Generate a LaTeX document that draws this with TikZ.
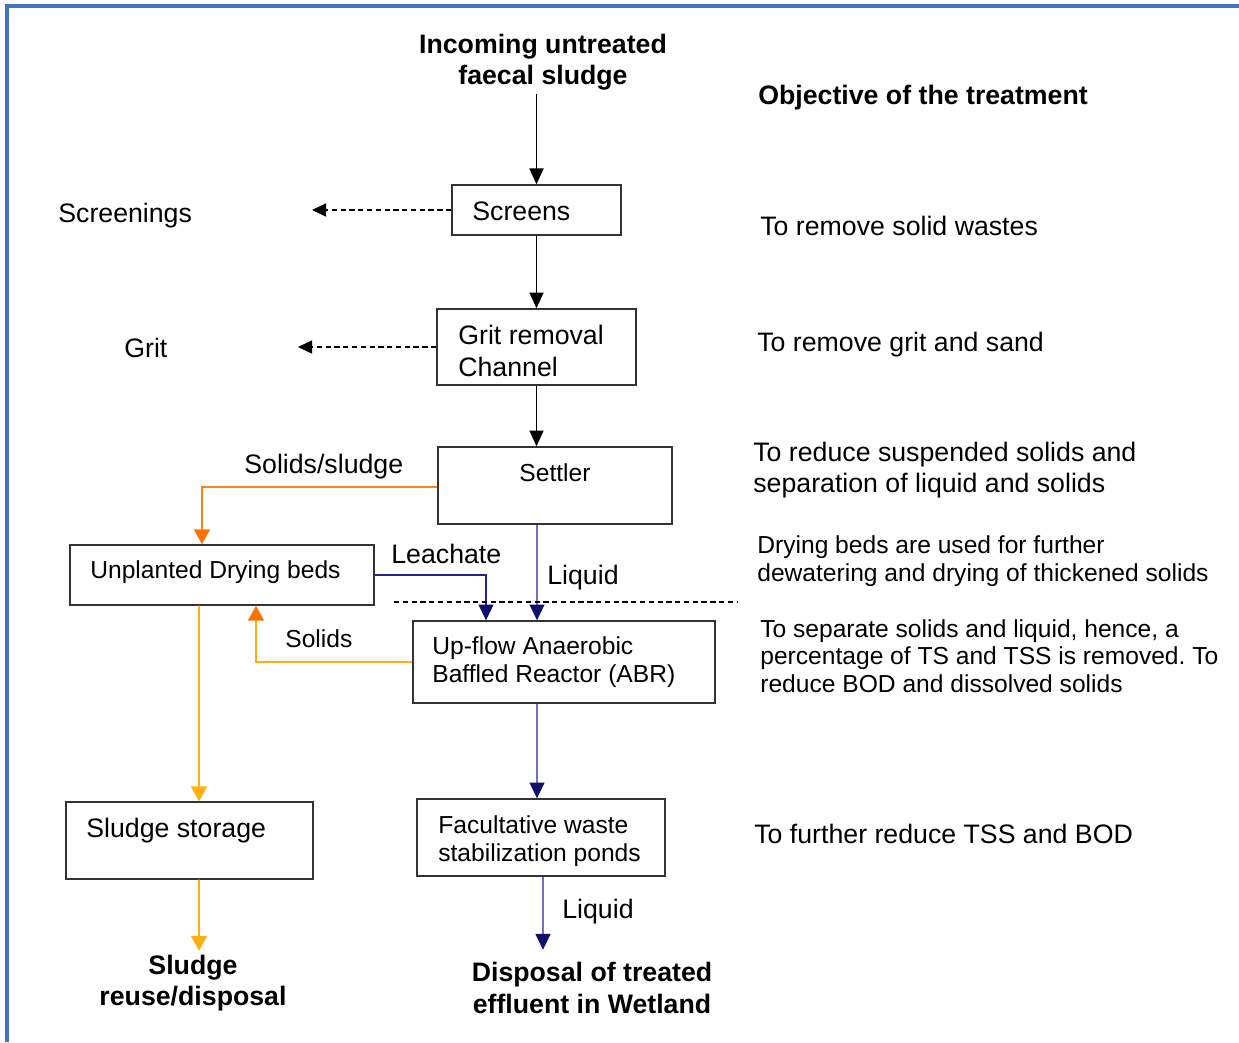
\documentclass[tikz,border=0pt]{standalone}
\usepackage{fontspec}
\setmainfont{Liberation Sans}
\usetikzlibrary{arrows.meta,calc,positioning}

\definecolor{frameblue}{RGB}{68,114,196}
\definecolor{sludgeline}{RGB}{255,130,25}
\definecolor{sludgeamber}{RGB}{255,176,15}
\definecolor{sludgehead}{RGB}{255,115,0}
\definecolor{liquidline}{RGB}{35,35,150}
\definecolor{liquidhead}{RGB}{15,15,110}
\newcommand{\bigtxt}{\fontsize{15.2}{18}\selectfont}
\newcommand{\smalltxt}{\fontsize{14}{15.8}\selectfont}

\begin{document}
\begin{tikzpicture}[x=0.02cm,y=-0.02cm,
box/.style={draw=black!80, line width=0.8pt, inner sep=0pt},
txt/.style={inner sep=0pt, font=\bigtxt, align=left},
ntxt/.style={inner sep=0pt, font=\smalltxt, align=left},
btxt/.style={inner sep=0pt, font=\bigtxt\bfseries, align=center},
blackflow/.style={line width=0.9pt, -{Triangle[width=8pt,length=9pt]}},
sideflow/.style={line width=0.6pt, dash pattern=on 3pt off 2pt, -{Triangle[width=7.5pt,length=8pt]}},
sludgeflow/.style={draw=sludgeline, line width=1.2pt, -{Triangle[width=9pt,length=8.5pt,color=sludgehead]}},
solidsflow/.style={draw=sludgeamber, line width=1.2pt, -{Triangle[width=9pt,length=8.5pt,color=sludgehead]}},
storeflow/.style={draw=sludgeamber, line width=1pt, -{Triangle[width=9pt,length=8.5pt,color=sludgeamber]}},
liquidflow/.style={draw=liquidline, line width=0.8pt, -{Triangle[width=8.5pt,length=9pt,color=liquidhead]}}]
\useasboundingbox (0,0) rectangle (1239,1042);
\draw[frameblue, line width=2pt] (7,1042) -- (7,6) -- (1239,6);
% boxes
\node[box, minimum width=3.38cm, minimum height=1cm] (B1) at (536.5,210) {};
\node[box, minimum width=3.98cm, minimum height=1.52cm] (B2) at (536.5,347) {};
\node[box, minimum width=4.68cm, minimum height=1.54cm] (B3) at (555,485.5) {};
\node[box, minimum width=6.08cm, minimum height=1.2cm] (B4) at (222,575) {};
\node[box, minimum width=6.04cm, minimum height=1.64cm] (B5) at (564,662) {};
\node[box, minimum width=4.94cm, minimum height=1.54cm] (B6) at (189.5,840.5) {};
\node[box, minimum width=4.96cm, minimum height=1.54cm] (B7) at (541,837.5) {};
% texts in boxes
\node[txt, anchor=west] (L1) at (472,211) {Screens};
\node[txt, anchor=west] (L2) at (458,351) {Grit removal\\Channel};
\node[ntxt] (L3) at (555,473) {Settler};
\node[ntxt, anchor=west] (L4) at (90,572) {Unplanted Drying beds};
\node[ntxt, anchor=west] (L5) at (432,662) {Up-flow Anaerobic\\Baffled Reactor (ABR)};
\node[txt, anchor=west] (L6) at (86,831) {Sludge storage};
\node[ntxt, anchor=west] (L7) at (438,841) {Facultative waste\\stabilization ponds};
% free texts
\node[btxt] (T1) at (543,62) {Incoming untreated\\faecal sludge};
\node[btxt, anchor=west] (T2) at (758,98) {Objective of the treatment};
\node[btxt] (T3) at (193,983) {Sludge\\reuse/disposal};
\node[btxt] (T4) at (592,988) {Disposal of treated\\effluent in Wetland};
\node[txt, anchor=west] (S1) at (58,216) {Screenings};
\node[txt, anchor=west] (S2) at (124,348) {Grit};
\node[txt, anchor=west] (S3) at (244,467) {Solids/sludge};
\node[txt, anchor=west] (S4) at (391,554) {Leachate};
\node[txt, anchor=west] (S5) at (547,578) {Liquid};
\node[ntxt, anchor=west] (S6) at (285,639) {Solids};
\node[txt, anchor=west] (S7) at (562,912) {Liquid};
% objectives
\node[txt, anchor=west] (O1) at (760,226) {To remove solid wastes};
\node[txt, anchor=west] (O2) at (757,345) {To remove grit and sand};
\node[txt, anchor=west] (O3) at (753,470) {To reduce suspended solids and\\separation of liquid and solids};
\node[ntxt, anchor=west] (O4) at (757,561) {Drying beds are used for further\\dewatering and drying of thickened solids};
\node[ntxt, anchor=west] (O5) at (760,656) {To separate solids and liquid, hence, a\\percentage of TS and TSS is removed.\ To\\reduce BOD and dissolved solids};
\node[txt, anchor=west] (O6) at (754,834) {To further reduce TSS and BOD};
% connectors
\coordinate (C1) at (312,208);
\coordinate (C2) at (298,348);
\coordinate (D1) at (394,602);
\coordinate (D2) at (738,602);
\draw[blackflow, shorten <=2pt] (T1.south -| B1.north) -- (B1.north);
\draw[blackflow] (B1.south) -- (B2.north);
\draw[blackflow] (B2.south) -- (B2.south |- B3.north);
\draw[sideflow] (B1.west) -- (B1.west -| C1);
\draw[sideflow] (B2.west) -- (B2.west -| C2);
\draw[sludgeflow] ([yshift=-0.03cm]B3.west) -| ([xshift=-0.4cm]B4.north);
\draw[liquidflow] (B4.east) -| ([xshift=-1.56cm]B5.north);
\draw[liquidflow] ([xshift=-0.36cm]B3.south) -- ([xshift=-0.54cm]B5.north);
\draw[solidsflow] (B5.west) -| ([xshift=0.68cm]B4.south);
\draw[storeflow] ([xshift=-0.46cm]B4.south) -- ([xshift=0.19cm]B6.north);
\draw[storeflow, shorten >=2pt] ([xshift=0.19cm]B6.south) -- ([xshift=0.12cm]T3.north);
\draw[liquidflow] ([xshift=-0.54cm]B5.south) -- ([xshift=-0.08cm]B7.north);
\draw[liquidflow, shorten >=7pt] ([xshift=0.04cm]B7.south) -- ([xshift=-0.98cm]T4.north);
\draw[line width=0.6pt, dash pattern=on 3pt off 2pt] (D1) -- (D2);
\end{tikzpicture}
\end{document}
